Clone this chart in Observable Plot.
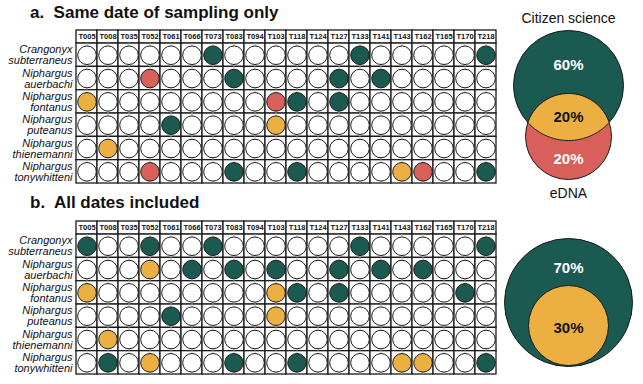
<!DOCTYPE html>
<html><head><meta charset="utf-8">
<script src="https://cdn.jsdelivr.net/npm/d3@7"></script>
<script src="https://cdn.jsdelivr.net/npm/@observablehq/plot@0.6"></script>
<style>
html,body{margin:0;padding:0;background:#fff;}
#wrap{position:relative;width:643px;height:384px;font-family:"Liberation Sans",Arial,sans-serif;overflow:hidden;}
.ttl{position:absolute;font-weight:bold;font-size:17px;white-space:pre;color:#111;}
</style></head><body>
<div id="wrap"></div>
<script>
// ---------- data ----------
const sites = ["T005","T008","T035","T052","T061","T066","T073","T083","T094","T103","T118","T124","T127","T133","T141","T143","T162","T165","T170","T218"];
const species = ["Crangonyx subterraneus","Niphargus auerbachi","Niphargus fontanus","Niphargus puteanus","Niphargus thienemanni","Niphargus tonywhitteni"];
const methodKeys = ["cs","both","edna"];
const methodNames = ["Citizen science","Both","eDNA"];

// panel a: same date of sampling only  [species, site, method]
const sameDateDetections = [
  ["Crangonyx subterraneus","T073","cs"],["Crangonyx subterraneus","T133","cs"],["Crangonyx subterraneus","T218","cs"],
  ["Niphargus auerbachi","T052","edna"],["Niphargus auerbachi","T083","cs"],["Niphargus auerbachi","T127","cs"],["Niphargus auerbachi","T141","cs"],
  ["Niphargus fontanus","T005","both"],["Niphargus fontanus","T103","edna"],["Niphargus fontanus","T118","cs"],["Niphargus fontanus","T127","cs"],
  ["Niphargus puteanus","T061","cs"],["Niphargus puteanus","T103","both"],
  ["Niphargus thienemanni","T008","both"],
  ["Niphargus tonywhitteni","T052","edna"],["Niphargus tonywhitteni","T083","cs"],["Niphargus tonywhitteni","T118","cs"],["Niphargus tonywhitteni","T143","both"],["Niphargus tonywhitteni","T162","edna"],["Niphargus tonywhitteni","T218","cs"]
];
// panel b: all dates included
const allDatesDetections = [
  ["Crangonyx subterraneus","T005","cs"],["Crangonyx subterraneus","T052","cs"],["Crangonyx subterraneus","T073","cs"],["Crangonyx subterraneus","T133","cs"],["Crangonyx subterraneus","T218","cs"],
  ["Niphargus auerbachi","T052","both"],["Niphargus auerbachi","T066","cs"],["Niphargus auerbachi","T083","cs"],["Niphargus auerbachi","T103","cs"],["Niphargus auerbachi","T127","cs"],["Niphargus auerbachi","T141","cs"],["Niphargus auerbachi","T162","cs"],
  ["Niphargus fontanus","T005","both"],["Niphargus fontanus","T103","both"],["Niphargus fontanus","T118","cs"],["Niphargus fontanus","T127","cs"],["Niphargus fontanus","T170","cs"],
  ["Niphargus puteanus","T061","cs"],["Niphargus puteanus","T103","both"],
  ["Niphargus thienemanni","T008","both"],
  ["Niphargus tonywhitteni","T008","cs"],["Niphargus tonywhitteni","T052","both"],["Niphargus tonywhitteni","T083","cs"],["Niphargus tonywhitteni","T118","cs"],["Niphargus tonywhitteni","T143","both"],["Niphargus tonywhitteni","T162","both"],["Niphargus tonywhitteni","T218","cs"]
];
const sameDateShares = [60, 20, 20];   // citizen only, both, eDNA only
const allDatesShares = [70, 30];       // citizen only, both
const vennSetLabels = ["Citizen science","eDNA"];
const panelTitles = ["a.  Same date of sampling only","b.  All dates included"];

// ---------- styles ----------
const COL = {cs:"#1b5a50", both:"#ecb042", edna:"#d9605a", none:"#ffffff"};
const INK = "#1a1a1a";
const FONT = '"Liberation Sans", Arial, sans-serif';
const wrap = document.getElementById("wrap");

function place(el, left, top){ el.style.position="absolute"; el.style.left=left+"px"; el.style.top=top+"px"; wrap.appendChild(el); }
function title(text, left, top){ const d=document.createElement("div"); d.className="ttl"; d.textContent=text; d.style.left=left+"px"; d.style.top=top+"px"; wrap.appendChild(d); }

function grid(detections, marginTop){
  const look = new Map(detections.map(([s,t,m]) => [s+"|"+t, m]));
  const cells = [];
  species.forEach((s,i) => sites.forEach(t => cells.push({sp:s, row:i, site:t, m: look.get(s+"|"+t) || "none"})));
  const hdr = 0.56;
  const tk = 0.09;
  return Plot.plot({
    width: 500, height: marginTop + 153 + 1,
    marginLeft: 76, marginRight: 4, marginTop, marginBottom: 1,
    style: {fontFamily: FONT, background: "transparent", overflow: "visible"},
    x: {type: "band", domain: sites, padding: 0, axis: null},
    y: {domain: [-hdr, species.length], reverse: true, axis: null},
    marks: [
      Plot.barY(sites, {x: d => d, y1: -hdr, y2: 0, fill: "white", stroke: INK, strokeWidth: 1.3}),
      Plot.barY(cells, {x: "site", y1: "row", y2: d => d.row + 1, fill: "white", stroke: INK, strokeWidth: 1.3}),
      Plot.ruleX(cells, {x: "site", y1: "row", y2: d => d.row + tk, stroke: "#aaa", strokeWidth: 1}),
      Plot.ruleX(cells, {x: "site", y1: d => d.row + 1 - tk, y2: d => d.row + 1, stroke: "#aaa", strokeWidth: 1}),
      Plot.dot(cells, {x: "site", y: d => d.row + 0.5, r: 9.3, fill: d => COL[d.m], stroke: INK, strokeWidth: 1}),
      Plot.text(sites, {x: d => d, y: -hdr/2, text: d => d, fontWeight: "bold", fontSize: 7.5, fill: "#111"}),
      Plot.text(species, {frameAnchor: "left", y: (d,i) => i + 0.5, text: d => d.replace(" ", "\n"),
        textAnchor: "end", dx: -4, fontStyle: "italic", fontSize: 11, lineHeight: 1.0, fill: "#111"})
    ]
  });
}

function lens(c1, r1, c2, r2, cx){
  const d = c2 - c1;
  const a = (d*d + r1*r1 - r2*r2) / (2*d);
  const h = Math.sqrt(r1*r1 - a*a);
  const pts = [];
  const t0 = Math.atan2(a - d, -h), t1 = Math.atan2(a - d, h);
  for (let k = 0; k <= 60; k++){ const t = t0 + (t1 - t0)*k/60; pts.push({x: cx + r2*Math.cos(t), y: c2 + r2*Math.sin(t)}); }
  const p0 = Math.atan2(a, h), p1 = Math.atan2(a, -h);
  for (let k = 0; k <= 60; k++){ const t = p0 + (p1 - p0)*k/60; pts.push({x: cx + r1*Math.cos(t), y: c1 + r1*Math.sin(t)}); }
  return pts;
}

// Venn a (layout in pixel units of its own frame)
function vennA(){
  const W = 143, H = 200, cx = 68;
  const big = {cy: 85, r: 55}, small = {cy: 136, r: 43};
  const circles = [
    {cy: big.cy, r: big.r, fill: COL.cs},
    {cy: small.cy, r: small.r, fill: COL.edna}
  ];
  const labels = [
    {y: 65, t: sameDateShares[0] + "%", c: "white"},
    {y: 117, t: sameDateShares[1] + "%", c: "#111"},
    {y: 159, t: sameDateShares[2] + "%", c: "white"}
  ];
  return Plot.plot({
    width: W, height: H, margin: 0,
    style: {fontFamily: FONT, background: "transparent", overflow: "visible"},
    x: {domain: [0, W], axis: null}, y: {domain: [0, H], reverse: true, axis: null},
    r: {type: "identity"},
    marks: [
      Plot.dot(circles, {x: () => cx, y: "cy", r: "r", fill: "fill", stroke: INK, strokeWidth: 1}),
      Plot.line(lens(big.cy, big.r, small.cy, small.r, cx), {x: "x", y: "y", fill: COL.both, stroke: INK, strokeWidth: 1, curve: "linear-closed"}),
      Plot.text(labels, {x: () => cx, y: "y", text: "t", fill: "c", fontWeight: "bold", fontSize: 15}),
      Plot.text(vennSetLabels, {x: () => cx, y: (d,i) => i === 0 ? 18 : 193, text: d => d, fontSize: 14, fill: "#111"})
    ]
  });
}

function vennB(){
  const W = 143, H = 184, cx = 68;
  const circles = [
    {cy: 102, r: 64, fill: COL.cs},
    {cy: 125, r: 40, fill: COL.both}
  ];
  const labels = [
    {y: 68, t: allDatesShares[0] + "%", c: "white"},
    {y: 128, t: allDatesShares[1] + "%", c: "#111"}
  ];
  return Plot.plot({
    width: W, height: H, margin: 0,
    style: {fontFamily: FONT, background: "transparent", overflow: "visible"},
    x: {domain: [0, W], axis: null}, y: {domain: [0, H], reverse: true, axis: null},
    r: {type: "identity"},
    marks: [
      Plot.dot(circles, {x: () => cx, y: "cy", r: "r", fill: "fill", stroke: INK, strokeWidth: 1}),
      Plot.text(labels, {x: () => cx, y: "y", text: "t", fill: "c", fontWeight: "bold", fontSize: 15})
    ]
  });
}

title(panelTitles[0], 30, 3);
place(grid(sameDateDetections, 30), 0, 0);
title(panelTitles[1], 30, 193);
place(grid(allDatesDetections, 31), 0, 190);
place(vennA(), 500, 0);
place(vennB(), 500, 200);
</script>
</body></html>
